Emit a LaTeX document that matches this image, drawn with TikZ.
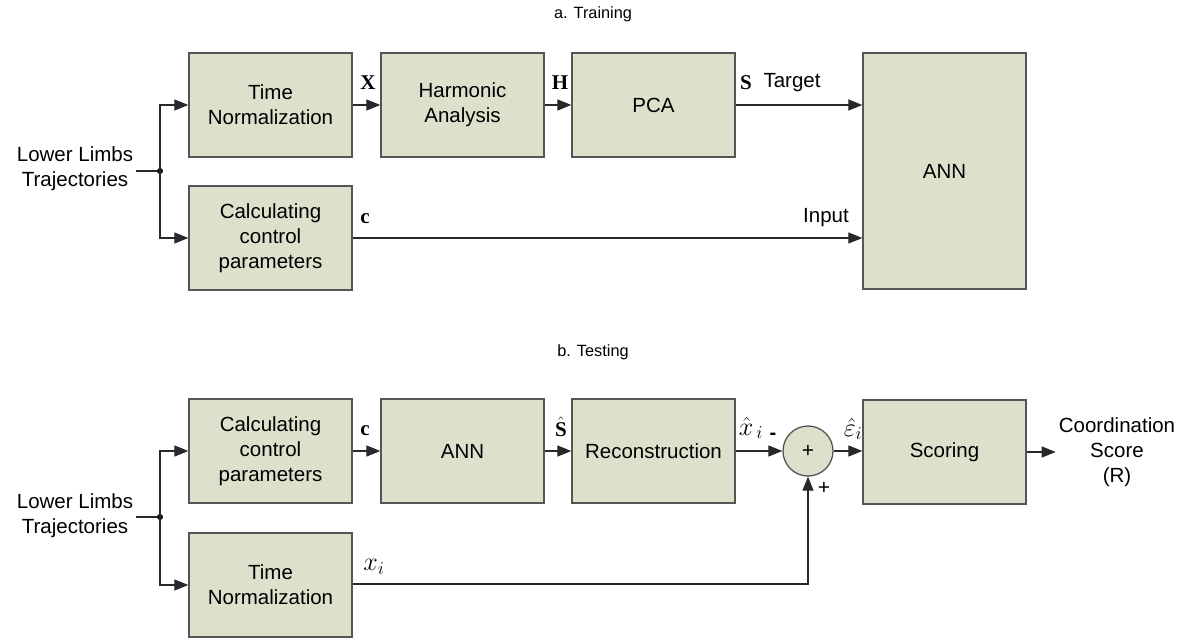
\RequirePackage{fix-cm}
\documentclass[tikz,border=0pt]{standalone}
\usepackage{fontspec}
\setmainfont{Liberation Sans}
\newfontfamily\seriffont{Liberation Serif}
\usetikzlibrary{arrows.meta}
\definecolor{boxfill}{RGB}{221,225,204}
\definecolor{boxline}{RGB}{85,85,85}
\definecolor{wire}{RGB}{40,40,40}
\begin{document}
\begin{tikzpicture}[x=1pt,y=-1pt,
  blk/.style={draw=boxline, fill=boxfill, line width=1.3pt, minimum width=163pt, minimum height=104pt, inner sep=0pt, align=center, font=\fontsize{20.5}{25}\selectfont},
  conn/.style={line width=1.2pt, draw=wire, -{Triangle[length=14pt,width=11pt]}},
  lbl/.style={font=\fontsize{20.5}{25}\selectfont, align=center, inner sep=3pt},
  sym/.style={font=\seriffont\bfseries\fontsize{21}{24}\selectfont, inner sep=0pt},
  mth/.style={font=\fontsize{26}{28}\selectfont, inner sep=0pt},
  ttl/.style={font=\fontsize{16.3}{19}\selectfont},
  dot/.style={circle, fill=black, inner sep=0pt, minimum size=6pt}]
\useasboundingbox (0,0) rectangle (1186,639);

% ---------- a. Training ----------
\node[ttl] (ta) at (593,14) {a. Training};
\node[blk] (tn1) at (270.5,105) {Time\\Normalization};
\node[blk] (ha) at (462.5,105) {Harmonic\\Analysis};
\node[blk] (pca) at (653.5,105) {PCA};
\node[blk, minimum height=236pt] (ann1) at (944.5,171) {ANN};
\node[blk] (cc1) at (270.5,238) {Calculating\\control\\parameters};
\node[lbl] (ll1) at (75,169) {Lower Limbs\\Trajectories};
\node[dot] (d1) at (160,171) {};

\draw[line width=1.2pt, draw=wire] (ll1.east |- d1) -- (d1);
\draw[conn] (d1.center) |- (tn1.west);
\draw[conn] (d1.center) |- (cc1.west);
\draw[conn] (tn1.east) -- (ha.west);
\draw[conn] (ha.east) -- (pca.west);
\draw[conn] (pca.east) -- (pca.east -| ann1.west);
\draw[conn] (cc1.east) -- (cc1.east -| ann1.west);

\node[sym] (lX) at (368,83) {X};
\node[sym] (lH) at (560,83) {H};
\node[sym] (lS) at (746,83) {S};
\node[lbl] (lT) at (792,83) {Target};
\node[sym] (lc1) at (365,219) {c};
\node[lbl] (lI) at (826,218) {Input};

% ---------- b. Testing ----------
\node[ttl] (tb) at (593,352) {b. Testing};
\node[blk] (cc2) at (270.5,451) {Calculating\\control\\parameters};
\node[blk] (ann2) at (462.5,451) {ANN};
\node[blk] (rec) at (653.5,451) {Reconstruction};
\node[circle, draw=boxline, fill=boxfill, line width=1.3pt, minimum size=50pt, inner sep=0pt, font=\fontsize{21}{23}\selectfont] (sum) at (808,451) {+};
\node[blk] (sc) at (944.5,452) {Scoring};
\node[blk] (tn2) at (270.5,585) {Time\\Normalization};
\node[lbl] (ll2) at (75,516) {Lower Limbs\\Trajectories};
\node[dot] (d2) at (160,517) {};
\node[lbl] (out) at (1117,452) {Coordination\\Score\\(R)};

\draw[line width=1.2pt, draw=wire] (ll2.east |- d2) -- (d2);
\draw[conn] (d2.center) |- (cc2.west);
\draw[conn] (d2.center) |- (tn2.west);
\draw[conn] (cc2.east) -- (ann2.west);
\draw[conn] (ann2.east) -- (rec.west);
\draw[conn] (rec.east) -- (sum.west);
\draw[conn] (sum.east) -- (sum.east -| sc.west);
\draw[conn] (tn2.east |- 0,584) -| (sum.south);
\draw[conn] (sc.east) -- (out.west);

\node[sym] (lc2) at (365,431) {c};
\node[mth, font=\fontsize{21}{23}\selectfont] (lSh) at (561,427) {$\hat{\hbox{\seriffont\bfseries S}}$};
\node[mth] (lxh) at (751,428) {$\hat{x}_{\,i}$};
\node[lbl, font=\bfseries\fontsize{20}{22}\selectfont] (lm) at (773,436) {-};
\node[lbl, font=\fontsize{21}{23}\selectfont] (lp) at (824,488) {+};
\node[mth] (leh) at (853,429) {$\hat{\varepsilon}_i$};
\node[mth] (lx) at (374,567) {$x_i$};
\end{tikzpicture}
\end{document}
